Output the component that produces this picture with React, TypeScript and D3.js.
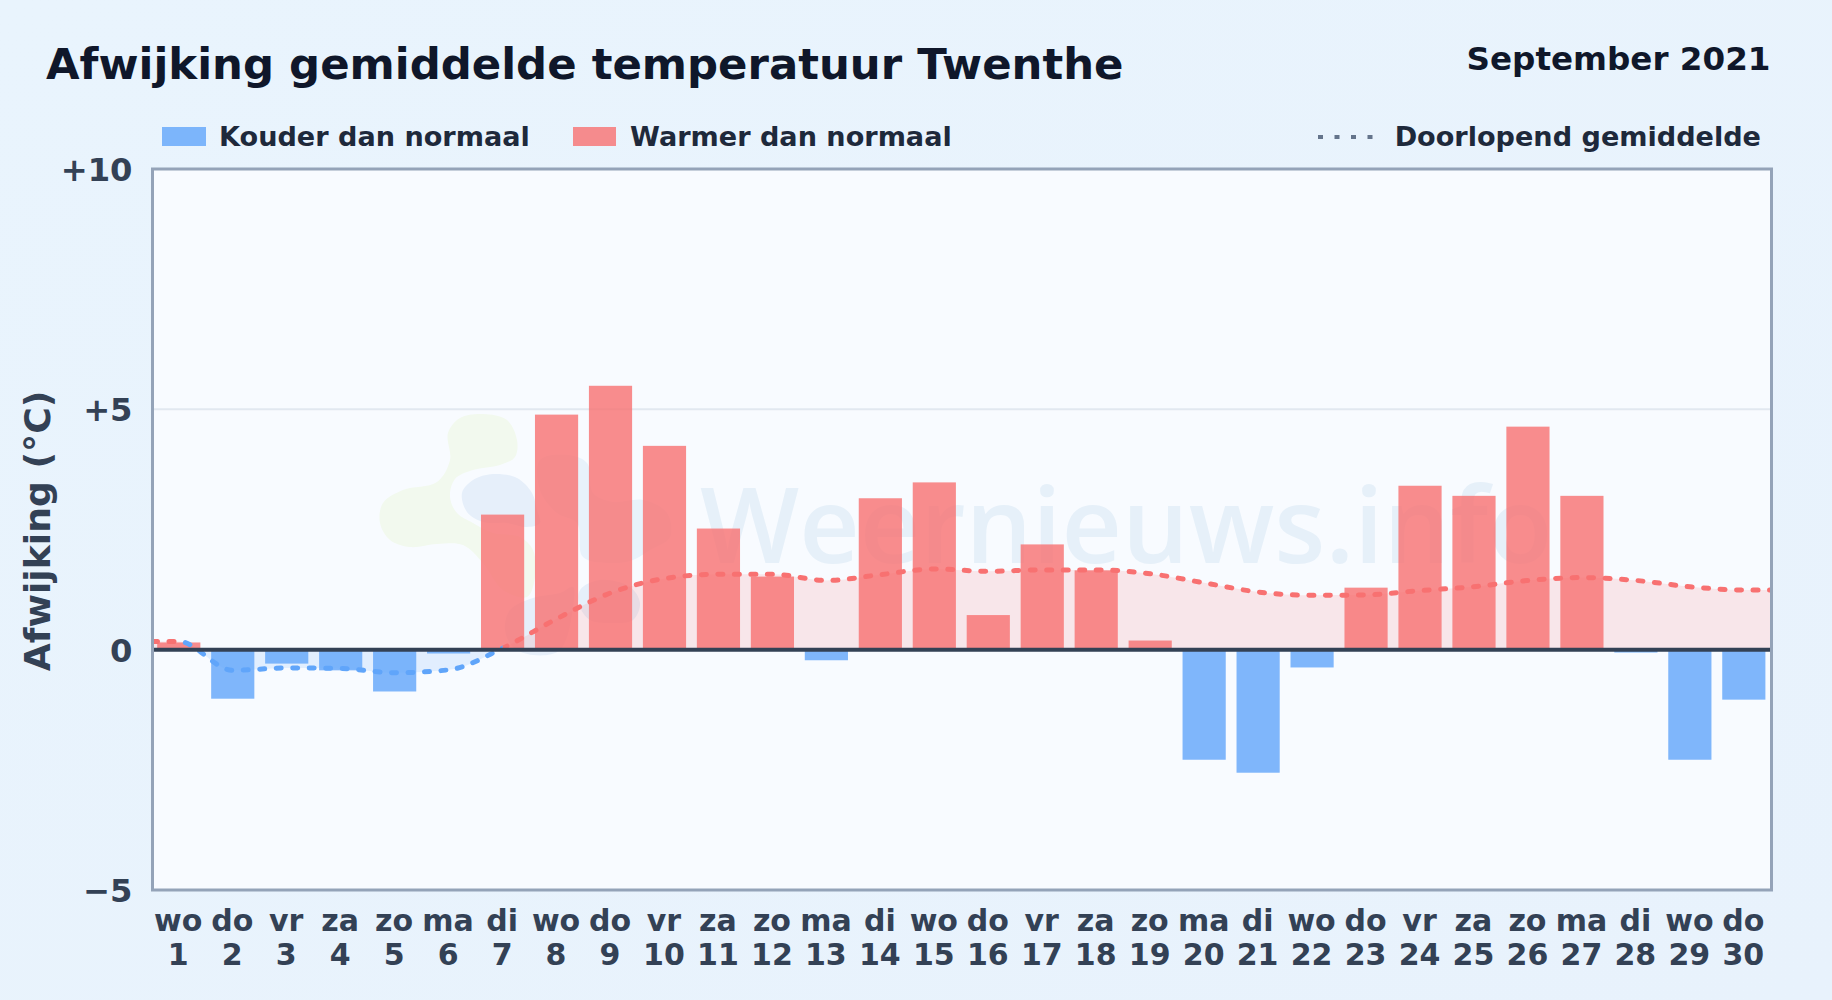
import React, { useEffect, useRef } from 'react';
import * as d3 from 'd3';

const WEEKDAYS = ['wo', 'do', 'vr', 'za', 'zo', 'ma', 'di', 'wo', 'do', 'vr', 'za', 'zo', 'ma', 'di', 'wo', 'do', 'vr', 'za', 'zo', 'ma', 'di', 'wo', 'do', 'vr', 'za', 'zo', 'ma', 'di', 'wo', 'do'];
const DAYS = ['1', '2', '3', '4', '5', '6', '7', '8', '9', '10', '11', '12', '13', '14', '15', '16', '17', '18', '19', '20', '21', '22', '23', '24', '25', '26', '27', '28', '29', '30'];
const DEVIATION = [0.15, -1.02, -0.29, -0.43, -0.87, -0.08, 2.81, 4.89, 5.49, 4.24, 2.52, 1.52, -0.22, 3.15, 3.48, 0.72, 2.19, 1.65, 0.19, -2.29, -2.56, -0.37, 1.29, 3.41, 3.2, 4.64, 3.2, -0.06, -2.29, -1.04];
const RUNNING_MEAN = [0.17, -0.43, -0.38, -0.39, -0.48, -0.42, 0.03, 0.64, 1.18, 1.48, 1.57, 1.57, 1.44, 1.56, 1.68, 1.63, 1.66, 1.66, 1.58, 1.39, 1.2, 1.13, 1.14, 1.23, 1.31, 1.44, 1.5, 1.44, 1.31, 1.24];
const Y_TICKS = [-5, 0, 5, 10];

const WIDTH = 1832;
const HEIGHT = 1000;
const FONT = '"DejaVu Sans", sans-serif';
const RED = '#f87171';
const BLUE = '#60a5fa';

// watermark logo outlines (page pixels)
const LOGO_GREEN: [number, number][] = [[448, 433], [450, 460], [437, 482], [403, 490], [383, 503], [380, 523], [390, 540], [410, 547], [437, 544], [463, 545], [483, 563], [503, 590], [527, 597], [535, 577], [533, 550], [520, 537], [493, 533], [473, 523], [457, 513], [450, 497], [455, 479], [473, 470], [500, 465], [515, 457], [517, 440], [507, 420], [483, 414], [460, 418]];
const LOGO_BLUE_A: [number, number][] = [[462, 493], [473, 480], [493, 474], [517, 478], [532, 493], [537, 510], [540, 523], [527, 527], [507, 523], [483, 522], [467, 512]];
const LOGO_BLUE_B: [number, number][] = [[540, 460], [567, 455], [587, 463], [593, 493], [613, 502], [643, 500], [667, 513], [670, 537], [650, 550], [633, 560], [613, 563], [583, 557], [577, 523], [557, 513], [540, 490]];
const LOGO_BLUE_C: [number, number][] = [[505, 630], [510, 610], [533, 598], [560, 593], [573, 587], [573, 607], [560, 650], [533, 655], [513, 647]];
const LOGO_BLUE_D: [number, number][] = [[580, 590], [600, 580], [630, 587], [640, 603], [633, 620], [610, 623], [590, 620], [580, 607]];

export default function App() {
  const svgRef = useRef<SVGSVGElement>(null);

  useEffect(() => {
    if (!svgRef.current) return;
    const svg = d3.select(svgRef.current);
    svg.selectAll('*').remove();

    const plot = { left: 152.5, right: 1771.5, top: 169, bottom: 890 };
    const x = d3.scaleBand<number>().domain(d3.range(DAYS.length)).range([plot.left - 0.7, plot.right - 0.7]).paddingInner(0.2).paddingOuter(0.1);
    const y = d3.scaleLinear().domain([-5, 10]).range([plot.bottom, plot.top]);
    const cx = (i: number) => x(i)! + x.bandwidth() / 2;

    const defs = svg.append('defs');
    const bg = defs.append('linearGradient').attr('id', 'pageBg').attr('x1', 0).attr('y1', 0).attr('x2', 1).attr('y2', 1);
    bg.append('stop').attr('offset', '0%').attr('stop-color', '#e9f4fd');
    bg.append('stop').attr('offset', '100%').attr('stop-color', '#e8f2fc');

    svg.append('rect').attr('width', WIDTH).attr('height', HEIGHT).attr('fill', 'url(#pageBg)');
    svg.append('rect')
      .attr('x', plot.left).attr('y', plot.top)
      .attr('width', plot.right - plot.left).attr('height', plot.bottom - plot.top)
      .attr('fill', '#f8fbff');

    // watermark
    const blob = d3.line().curve(d3.curveCatmullRomClosed.alpha(0.5));
    const wm = svg.append('g');
    wm.append('path').attr('d', blob(LOGO_GREEN)).attr('fill', '#f2f9ee');
    wm.append('path').attr('d', blob(LOGO_BLUE_A)).attr('fill', '#e6effa');
    wm.append('path').attr('d', blob(LOGO_BLUE_B)).attr('fill', '#e8f2fb');
    wm.append('path').attr('d', blob(LOGO_BLUE_C)).attr('fill', '#e6effa');
    wm.append('path').attr('d', blob(LOGO_BLUE_D)).attr('fill', '#e6effa');
    wm.append('text')
      .attr('x', 700).attr('y', 563)
      .attr('font-family', '"Open Sans", sans-serif')
      .attr('font-weight', 600)
      .attr('font-size', 105)
      .attr('fill', '#e6f0f9')
      .text('Weernieuws.info');

    // +5 grid line
    svg.append('line')
      .attr('x1', plot.left).attr('x2', plot.right)
      .attr('y1', y(5)).attr('y2', y(5))
      .attr('stroke', '#e2e8f0').attr('stroke-width', 2);

    // running mean, extended flat to the plot edges
    const meanPoints: [number, number][] = RUNNING_MEAN.map((v, i) => [cx(i), v]);
    meanPoints.unshift([plot.left, RUNNING_MEAN[0]]);
    meanPoints.push([plot.right, RUNNING_MEAN[RUNNING_MEAN.length - 1]]);

    const area = d3.area<[number, number]>()
      .x(d => d[0]).y0(y(0)).y1(d => y(d[1]))
      .curve(d3.curveMonotoneX);
    const line = d3.line<[number, number]>()
      .x(d => d[0]).y(d => y(d[1]))
      .curve(d3.curveMonotoneX);

    defs.append('clipPath').attr('id', 'aboveZero').append('rect')
      .attr('x', plot.left).attr('y', plot.top)
      .attr('width', plot.right - plot.left).attr('height', y(0) - plot.top);
    defs.append('clipPath').attr('id', 'belowZero').append('rect')
      .attr('x', plot.left).attr('y', y(0))
      .attr('width', plot.right - plot.left).attr('height', plot.bottom - y(0));

    svg.append('path').attr('d', area(meanPoints)).attr('fill', RED).attr('fill-opacity', 0.15).attr('clip-path', 'url(#aboveZero)');
    svg.append('path').attr('d', area(meanPoints)).attr('fill', BLUE).attr('fill-opacity', 0.15).attr('clip-path', 'url(#belowZero)');

    // bars
    svg.append('g').selectAll('rect')
      .data(DEVIATION)
      .enter()
      .append('rect')
      .attr('x', (_, i) => x(i)!)
      .attr('width', x.bandwidth())
      .attr('y', d => y(Math.max(d, 0)))
      .attr('height', d => Math.abs(y(d) - y(0)))
      .attr('fill', d => (d < 0 ? BLUE : RED))
      .attr('fill-opacity', 0.8);

    // dotted line: a segment is blue as soon as one of its ends is negative
    const clipBlue = defs.append('clipPath').attr('id', 'segBlue');
    const clipRed = defs.append('clipPath').attr('id', 'segRed');
    meanPoints.slice(1).forEach((p, i) => {
      const prev = meanPoints[i];
      (prev[1] < 0 || p[1] < 0 ? clipBlue : clipRed).append('rect')
        .attr('x', prev[0]).attr('y', 0)
        .attr('width', p[0] - prev[0]).attr('height', HEIGHT);
    });
    const drawLine = (color: string, clip: string) => svg.append('path')
      .attr('d', line(meanPoints))
      .attr('fill', 'none')
      .attr('stroke', color)
      .attr('stroke-width', 5)
      .attr('stroke-linecap', 'round')
      .attr('stroke-dasharray', '5 11.5')
      .attr('clip-path', clip);
    drawLine(RED, 'url(#segRed)');
    drawLine(BLUE, 'url(#segBlue)');

    // zero line + frame
    svg.append('line')
      .attr('x1', plot.left).attr('x2', plot.right)
      .attr('y1', y(0)).attr('y2', y(0))
      .attr('stroke', '#334155').attr('stroke-width', 4);
    svg.append('rect')
      .attr('x', plot.left).attr('y', plot.top)
      .attr('width', plot.right - plot.left).attr('height', plot.bottom - plot.top)
      .attr('fill', 'none').attr('stroke', '#94a3b8').attr('stroke-width', 3);

    const label = (tx: number, ty: number, text: string, size: number, color: string, anchor = 'start') =>
      svg.append('text')
        .attr('x', tx).attr('y', ty)
        .attr('font-family', FONT).attr('font-weight', 700)
        .attr('font-size', size).attr('fill', color)
        .attr('text-anchor', anchor)
        .text(text);

    // y axis
    const tickText = (v: number) => (v > 0 ? `+${v}` : v < 0 ? `\u2212${-v}` : '0');
    Y_TICKS.forEach(v => {
      label(plot.left - 20, y(v) + 12, tickText(v), 32.2, '#334155', 'end');
    });
    svg.append('text')
      .attr('transform', `translate(50,531) rotate(-90)`)
      .attr('text-anchor', 'middle')
      .attr('font-family', FONT).attr('font-weight', 700)
      .attr('font-size', 36.2).attr('fill', '#334155')
      .text('Afwijking (°C)');

    // x axis, two rows
    WEEKDAYS.forEach((d, i) => {
      label(cx(i) - 0.5, 931, d, 30, '#334155', 'middle');
      label(cx(i) - 0.5, 965, DAYS[i], 30, '#334155', 'middle');
    });

    // title
    label(46, 79, 'Afwijking gemiddelde temperatuur Twenthe', 43.4, '#0f172a');
    label(1770.5, 70, 'September 2021', 32.6, '#0f172a', 'end');

    // legend
    svg.append('rect').attr('x', 162).attr('y', 127).attr('width', 44).attr('height', 19).attr('fill', BLUE).attr('fill-opacity', 0.8);
    label(219, 146, 'Kouder dan normaal', 27.1, '#1e293b');
    svg.append('rect').attr('x', 573).attr('y', 127).attr('width', 43).attr('height', 19).attr('fill', RED).attr('fill-opacity', 0.8);
    label(630, 146, 'Warmer dan normaal', 27.1, '#1e293b');
    svg.append('line')
      .attr('x1', 1318).attr('x2', 1376).attr('y1', 137).attr('y2', 137)
      .attr('stroke', '#64748b').attr('stroke-width', 4)
      .attr('stroke-dasharray', '5 11.5');
    label(1761, 146, 'Doorlopend gemiddelde', 27.1, '#1e293b', 'end');
  }, []);

  return (
    <svg
      ref={svgRef}
      width={WIDTH}
      height={HEIGHT}
      style={{ position: 'absolute', left: 0, top: 0 }}
    />
  );
}
